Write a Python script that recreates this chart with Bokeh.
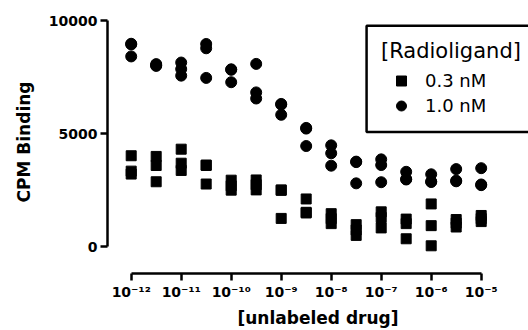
from bokeh.plotting import figure
from bokeh.models import Range1d, FixedTicker, Legend, LegendItem, ColumnDataSource, BoxAnnotation
from bokeh.embed import file_html
from bokeh.resources import INLINE

# unlabeled drug concentration (M), half-log steps
conc = [1e-12, 3.16e-12, 1e-11, 3.16e-11, 1e-10, 3.16e-10, 1e-9, 3.16e-9,
        1e-8, 3.16e-8, 1e-7, 3.16e-7, 1e-6, 3.16e-6, 1e-5]

# 0.3 nM radioligand, triplicates (CPM)
low_rep1 = [4030, 4000, 4320, 3620, 2950, 2960, 2520, 2120, 1470, 985, 1550, 1230, 1900, 1210, 1390]
low_rep2 = [3350, 3600, 3700, 3600, 2700, 2750, 2500, 1530, 1250, 750, 1300, 1030, 940, 1050, 1250]
low_rep3 = [3220, 2880, 3380, 2780, 2510, 2520, 1260, 1500, 1030, 510, 840, 360, 50, 880, 1120]

# 1.0 nM radioligand, triplicates (CPM)
high_rep1 = [8980, 8080, 8150, 8970, 7850, 8090, 6320, 5260, 4490, 3770, 3870, 3320, 3210, 3440, 3480]
high_rep2 = [8950, 8030, 7860, 8780, 7830, 6830, 6290, 5230, 4140, 3750, 3620, 3000, 2890, 2930, 2760]
high_rep3 = [8420, 8000, 7570, 7470, 7280, 6560, 5840, 4460, 3590, 2810, 2860, 2980, 2870, 2900, 2730]

series_labels = ["0.3 nM", "1.0 nM"]
legend_title = "[Radioligand]"

x_ticks = [1e-12, 1e-11, 1e-10, 1e-9, 1e-8, 1e-7, 1e-6, 1e-5]
x_tick_labels = ["10\u207b\u00b9\u00b2", "10\u207b\u00b9\u00b9", "10\u207b\u00b9\u2070", "10\u207b\u2079",
                 "10\u207b\u2078", "10\u207b\u2077", "10\u207b\u2076", "10\u207b\u2075"]
y_ticks = [0, 5000, 10000]

FONT = "DejaVu Sans"

src_low = ColumnDataSource(dict(x=conc * 3, y=low_rep1 + low_rep2 + low_rep3))
src_high = ColumnDataSource(dict(x=conc * 3, y=high_rep1 + high_rep2 + high_rep3))

p = figure(width=528, height=330, x_axis_type="log",
           x_range=Range1d(10 ** -12.474, 10 ** -4.054),
           y_range=Range1d(-1175, 10450),
           output_backend="svg", toolbar_location=None,
           min_border_left=107, min_border_right=0, min_border_top=10, min_border_bottom=57)

p.xgrid.visible = False
p.ygrid.visible = False
p.outline_line_color = None
p.background_fill_color = "white"
p.border_fill_color = "white"

for ax in (p.xaxis[0], p.yaxis[0]):
    ax.axis_line_width = 2.5
    ax.axis_line_color = "black"
    ax.major_tick_line_width = 2.5
    ax.major_tick_line_color = "black"
    ax.major_tick_out = 7
    ax.major_tick_in = 0
    ax.minor_tick_line_color = None
    ax.major_label_text_font = FONT
    ax.major_label_text_font_style = "bold"
    ax.major_label_text_font_size = "14px"
    ax.major_label_text_color = "black"
    ax.axis_label_text_font = FONT
    ax.axis_label_text_font_style = "bold"
    ax.axis_label_text_font_size = "17px"
    ax.axis_label_text_color = "black"

xa = p.xaxis[0]
xa.ticker = FixedTicker(ticks=x_ticks)
xa.bounds = (x_ticks[0], x_ticks[-1])
xa.major_label_overrides = dict(zip(x_ticks, x_tick_labels))
xa.major_label_standoff = 3
xa.axis_label = "[unlabeled drug]"
xa.axis_label_standoff = 5

ya = p.yaxis[0]
ya.ticker = FixedTicker(ticks=y_ticks)
ya.bounds = (y_ticks[0], y_ticks[-1])
ya.major_label_standoff = 3
ya.axis_label = "CPM Binding"
ya.axis_label_standoff = 12

r_low = p.scatter(x="x", y="y", source=src_low, marker="square", size=10,
                  fill_color="black", line_color="black")
r_high = p.scatter(x="x", y="y", source=src_high, marker="circle", size=11,
                   fill_color="black", line_color="black")

# legend frame (data coordinates), running past the right edge of the picture
legend_box = BoxAnnotation(left=5.1e-8, right=1e-3, bottom=5080, top=9780,
                           fill_color="white", fill_alpha=1,
                           line_color="black", line_width=2.5, line_alpha=1)
p.add_layout(legend_box)

legend = Legend(items=[LegendItem(label=series_labels[0], renderers=[r_low]),
                       LegendItem(label=series_labels[1], renderers=[r_high])],
                location=(274, 155),
                title=legend_title,
                title_text_font=FONT, title_text_font_size="21px",
                title_text_font_style="normal", title_text_color="black",
                title_standoff=5,
                label_text_font=FONT, label_text_font_size="18px", label_text_color="black",
                border_line_color=None,
                padding=0, spacing=0, margin=0,
                glyph_width=40, glyph_height=25, label_height=25,
                label_standoff=4,
                background_fill_color="white", background_fill_alpha=0)
p.add_layout(legend)

open("out.html", "w").write(file_html(p, INLINE))
